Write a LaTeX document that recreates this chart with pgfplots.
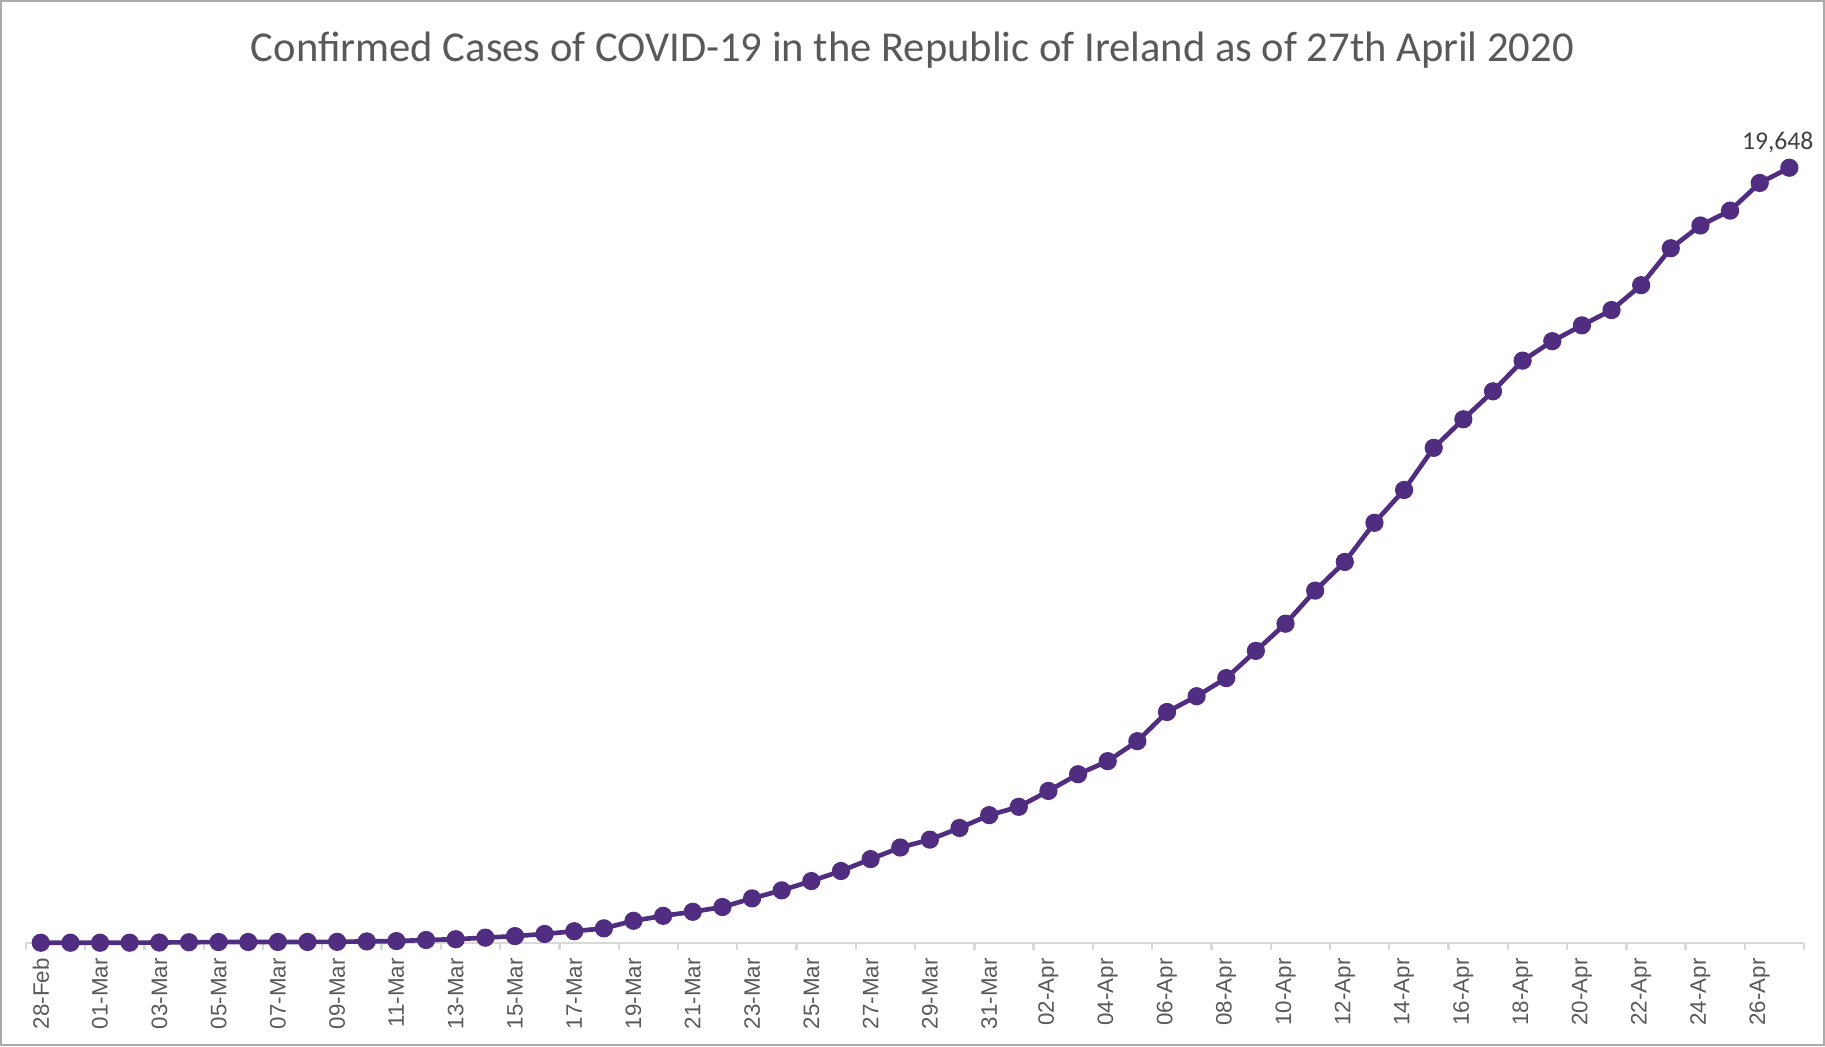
\documentclass[border=0pt]{standalone}
\usepackage{pgfplots}
\pgfplotsset{compat=1.18}
\usepackage{fontspec}
\setmainfont{Carlito}
\newfontfamily\arialfont{Liberation Sans}
\definecolor{linepurple}{RGB}{80,45,128}
\definecolor{txtgray}{RGB}{89,89,89}
\definecolor{lblgray}{RGB}{64,64,64}
\definecolor{axgray}{RGB}{217,217,217}
\definecolor{framegray}{RGB}{170,170,170}
\pgfplotstableread{
idx cases
0 1
1 1
2 1
3 2
4 6
5 13
6 18
7 19
8 21
9 21
10 24
11 34
12 43
13 70
14 90
15 129
16 169
17 223
18 292
19 366
20 557
21 683
22 785
23 906
24 1125
25 1329
26 1564
27 1819
28 2121
29 2415
30 2615
31 2910
32 3235
33 3447
34 3849
35 4273
36 4604
37 5111
38 5850
39 6250
40 6710
41 7400
42 8089
43 8928
44 9655
45 10647
46 11479
47 12547
48 13271
49 13980
50 14758
51 15251
52 15652
53 16040
54 16671
55 17607
56 18184
57 18561
58 19262
59 19648
}\casedata
\begin{document}
\begin{tikzpicture}
\path[use as bounding box] (0,0) rectangle (784pt,449.5pt);
\draw[framegray, line width=1pt] (0.5pt,0.5pt) rectangle (783.5pt,449pt);
\node[txtgray, font=\fontsize{18.3pt}{22pt}\selectfont] at (392pt,428pt) {Confirmed Cases of COVID-19 in the Republic of Ireland as of 27th April 2020};
\begin{axis}[
  at={(11.15pt,44.5pt)}, anchor=south west,
  width=763.9pt, height=338.9pt, scale only axis,
  xmin=-0.5, xmax=59.5, ymin=0, ymax=20000,
  axis x line*=bottom, axis y line=none,
  x axis line style={draw=axgray, line width=1pt},
  clip=false,
  xtick={0,2,...,58},
  xticklabels={28-Feb,01-Mar,03-Mar,05-Mar,07-Mar,09-Mar,11-Mar,13-Mar,15-Mar,17-Mar,19-Mar,21-Mar,23-Mar,25-Mar,27-Mar,29-Mar,31-Mar,02-Apr,04-Apr,06-Apr,08-Apr,10-Apr,12-Apr,14-Apr,16-Apr,18-Apr,20-Apr,22-Apr,24-Apr,26-Apr},
  minor xtick={-0.5,1.5,...,59.5},
  major tick length=0pt,
  minor tick length=3pt,
  xtick align=outside,
  xtick pos=bottom,
  every tick/.style={draw=axgray, line width=1pt},
  minor tick style={draw=axgray, line width=1pt},
  xticklabel style={yshift=-6.5pt, rotate=90, anchor=east, font=\arialfont\fontsize{9.6pt}{12pt}\selectfont, text=txtgray, inner sep=0pt},
]
\addplot[linepurple, line width=2pt, mark=*, mark size=2.9pt, mark options={fill=linepurple, draw=linepurple}] table[x=idx, y=cases] {\casedata};
\node[lblgray, font=\fontsize{11pt}{13pt}\selectfont, xshift=-5pt, yshift=11pt] at (axis cs:59,19648) {19,648};
\end{axis}
\end{tikzpicture}
\end{document}
